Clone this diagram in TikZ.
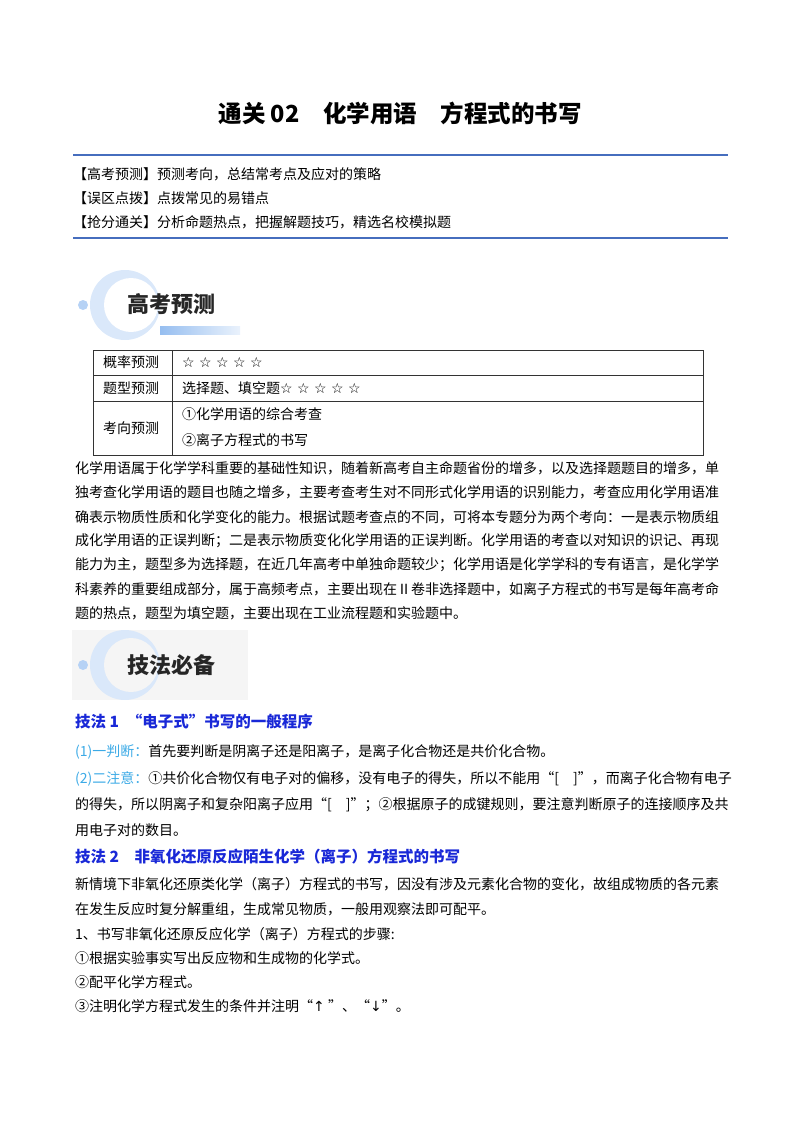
\documentclass[tikz,border=0pt]{standalone}
\usepackage{fontspec}
\setmainfont{Noto Sans CJK SC}
\newfontfamily\djv{DejaVu Sans}
\definecolor{rule}{RGB}{70,110,190}
\definecolor{head}{RGB}{25,40,215}
\definecolor{lab}{RGB}{60,170,230}
\definecolor{cl}{RGB}{150,190,240}
\tikzset{
  tx/.style={anchor=west,inner sep=0pt,font=\fontsize{14}{16}\selectfont},
  hd/.style={tx,text=head,font=\fontsize{15.5}{17}\selectfont\bfseries},
  ban/.style={anchor=west,inner sep=0pt,font=\fontsize{22}{24}\selectfont\bfseries,text=black!85},
}
\newcommand{\stars}{{\djv ☆ ☆ ☆ ☆ ☆}}
\begin{document}
\begin{tikzpicture}[x=1pt,y=-1pt]
\useasboundingbox (0,0) rectangle (800,1132);
\node[inner sep=0pt,font=\fontsize{23.5}{25}\selectfont\bfseries] (title) at (400,113) {通关 02\quad 化学用语\quad 方程式的书写};
\draw[rule,line width=2.5pt] (73,155) coordinate (r1a) -- (728,155) coordinate (r1b);
\node[tx] (i1) at (73,174) {【高考预测】预测考向，总结常考点及应对的策略};
\node[tx] (i2) at (73,198) {【误区点拨】点拨常见的易错点};
\node[tx] (i3) at (73,222) {【抢分通关】分析命题热点，把握解题技巧，精选名校模拟题};
\draw[rule,line width=2.5pt] (73,238) coordinate (r2a) -- (728,238) coordinate (r2b);
% banner 1
\fill[cl!35] (125,305) circle (35);
\fill[white] (131,305) circle (27);
\fill[cl!70] (83,305) circle (5);
\shade[left color=cl,right color=cl!20] (160,326) rectangle (240,334);
\node[ban] (b1) at (127,304) {高考预测};
% table
\draw[black!80] (93,350) rectangle (703,455);
\draw[black!80] (93,375) -- (703,375) (93,401) -- (703,401) (172,350) -- (172,455);
\node[tx] (t1) at (103,362) {概率预测};
\node[tx] (t2) at (182,362) {\stars};
\node[tx] (t3) at (103,388) {题型预测};
\node[tx] (t4) at (182,388) {选择题、填空题\stars};
\node[tx] (t5) at (103,428) {考向预测};
\node[tx] (t6) at (182,414) {①化学用语的综合考查};
\node[tx] (t7) at (182,440) {②离子方程式的书写};
% paragraph
\node[tx] (p1) at (75,468) {化学用语属于化学学科重要的基础性知识，随着新高考自主命题省份的增多，以及选择题题目的增多，单};
\node[tx] (p2) at (75,492) {独考查化学用语的题目也随之增多，主要考查考生对不同形式化学用语的识别能力，考查应用化学用语准};
\node[tx] (p3) at (75,517) {确表示物质性质和化学变化的能力。根据试题考查点的不同，可将本专题分为两个考向：一是表示物质组};
\node[tx] (p4) at (75,541) {成化学用语的正误判断；二是表示物质变化化学用语的正误判断。化学用语的考查以对知识的识记、再现};
\node[tx] (p5) at (75,565) {能力为主，题型多为选择题，在近几年高考中单独命题较少；化学用语是化学学科的专有语言，是化学学};
\node[tx] (p6) at (75,589) {科素养的重要组成部分，属于高频考点，主要出现在Ⅱ卷非选择题中，如离子方程式的书写是每年高考命};
\node[tx] (p7) at (75,613) {题的热点，题型为填空题，主要出现在工业流程题和实验题中。};
% banner 2
\fill[black!4] (72,630) rectangle (248,700);
\fill[cl!35] (125,665) circle (35);
\fill[black!4] (131,665) circle (27);
\fill[cl!70] (83,665) circle (5);
\node[ban] (b2) at (127,665) {技法必备};
% sections
\node[hd] (h1) at (75,722) {技法 1\enspace“电子式”书写的一般程序};
\node[tx] (s1) at (75,752) {\textcolor{lab}{(1)一判断：}首先要判断是阴离子还是阳离子，是离子化合物还是共价化合物。};
\node[tx] (s2) at (75,779) {\textcolor{lab}{(2)二注意：}①共价化合物仅有电子对的偏移，没有电子的得失，所以不能用“[\quad ]”，而离子化合物有电子};
\node[tx] (s3) at (75,805) {的得失，所以阴离子和复杂阳离子应用“[\quad ]”；②根据原子的成键规则，要注意判断原子的连接顺序及共};
\node[tx] (s4) at (75,830) {用电子对的数目。};
\node[hd] (h2) at (75,857) {技法 2\quad 非氧化还原反应陌生化学（离子）方程式的书写};
\node[tx] (u1) at (75,884) {新情境下非氧化还原类化学（离子）方程式的书写，因没有涉及元素化合物的变化，故组成物质的各元素};
\node[tx] (u2) at (75,909) {在发生反应时复分解重组，生成常见物质，一般用观察法即可配平。};
\node[tx] (u3) at (75,934) {1、书写非氧化还原反应化学（离子）方程式的步骤:};
\node[tx] (u4) at (75,958) {①根据实验事实写出反应物和生成物的化学式。};
\node[tx] (u5) at (75,982) {②配平化学方程式。};
\node[tx] (u6) at (75,1006) {③注明化学方程式发生的条件并注明“{\djv ↑}\ ”、“{\djv ↓}”。};
\end{tikzpicture}
\end{document}
